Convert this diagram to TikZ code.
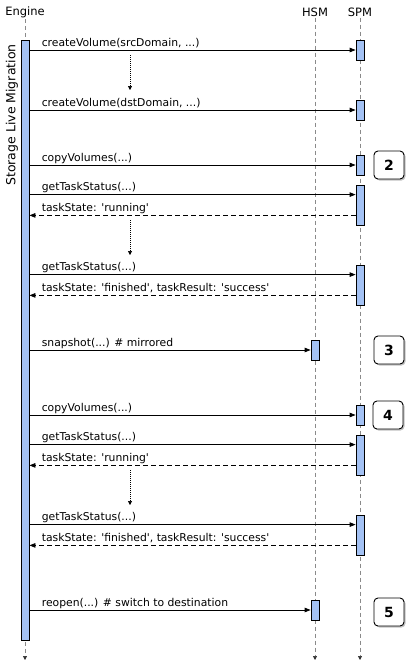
\documentclass[tikz,border=0pt]{standalone}
\usepackage{fontspec}
\setmainfont{DejaVu Sans}[Ligatures=TeXOff]
\usetikzlibrary{arrows.meta,shadows}
\definecolor{actfill}{HTML}{A4C2F4}
\definecolor{lifegray}{HTML}{8A8A8A}

\begin{document}
\begin{tikzpicture}[
  x=1pt,y=-1pt,
  font=\fontsize{10.8}{13}\selectfont,
  head/.style={font=\fontsize{11.5}{14}\selectfont,inner sep=1pt},
  life/.style={draw=lifegray,dash pattern=on 4pt off 3pt,line width=0.7pt,-{Triangle[length=4pt,width=4pt,color=black!80]}},
  bar/.style={draw=black,fill=actfill,line width=0.8pt,minimum width=8pt,minimum height=20pt,inner sep=0pt},
  longbar/.style={bar,minimum height=40pt},
  msg/.style={-{Triangle[length=6pt,width=4.5pt]},line width=0.8pt},
  ret/.style={msg,dash pattern=on 5pt off 3pt},
  wait/.style={-{Triangle[length=4pt,width=4pt]},dash pattern=on 1pt off 1pt,line width=0.6pt},
  lbl/.style={anchor=base west,xshift=12pt,yshift=4pt,inner sep=0pt},
  badge/.style={draw,fill=white,rounded corners=4pt,line width=0.9pt,minimum width=30pt,minimum height=28pt,
    font=\bfseries\fontsize{14}{16}\selectfont,
    drop shadow={shadow xshift=1.5pt,shadow yshift=-1.5pt,fill=black!40,opacity=0.6}}
]
\useasboundingbox (0,0) rectangle (410,670);

% participants and lifelines
\node[head] (engine) at (25,12) {Engine};
\node[head] (hsm) at (315,12) {HSM};
\node[head] (spm) at (360,12) {SPM};
\coordinate (engend) at (25,660);
\coordinate (hsmend) at (315,660);
\coordinate (spmend) at (360,660);
\draw[life] (engine) -- (engend);
\draw[life] (hsm) -- (hsmend);
\draw[life] (spm) -- (spmend);

\node[rotate=90,font=\fontsize{12.5}{15}\selectfont] (title) at (12,115) {Storage Live Migration};

% activations
\node[bar,minimum height=600pt] (engbar) at (25,340) {};
\node[bar] (spm1) at (360,50) {};
\node[bar] (spm2) at (360,110) {};
\node[bar] (spm3) at (360,165) {};
\node[longbar] (spm4) at (360,205) {};
\node[longbar] (spm5) at (360,285) {};
\node[bar] (hsm1) at (315,350) {};
\node[bar] (spm6) at (360,415) {};
\node[longbar] (spm7) at (360,455) {};
\node[longbar] (spm8) at (360,535) {};
\node[bar] (hsm2) at (315,610) {};

\foreach \b in {spm4,spm5,spm7,spm8}{
  \coordinate (q-\b) at ([yshift=-10pt]\b.north west);
  \coordinate (r-\b) at ([yshift=10pt]\b.south west);
}

% waits
\coordinate (w1a) at (130,55);  \coordinate (w1b) at (130,90);
\coordinate (w2a) at (130,220); \coordinate (w2b) at (130,255);
\coordinate (w3a) at (130,470); \coordinate (w3b) at (130,505);
\draw[wait] (w1a) -- (w1b);
\draw[wait] (w2a) -- (w2b);
\draw[wait] (w3a) -- (w3b);

% messages
\draw[msg] (engbar.east |- spm1.west) -- (spm1.west) node[lbl,pos=0] (t1) {createVolume(srcDomain, ...)};
\draw[msg] (engbar.east |- spm2.west) -- (spm2.west) node[lbl,pos=0] (t2) {createVolume(dstDomain, ...)};
\draw[msg] (engbar.east |- spm3.west) -- (spm3.west) node[lbl,pos=0] (t3) {copyVolumes(...)};
\draw[msg] (engbar.east |- q-spm4) -- (q-spm4) node[lbl,pos=0] (t4) {getTaskStatus(...)};
\draw[ret] (r-spm4) -- (engbar.east |- r-spm4) node[lbl,pos=1] (t5) {taskState: 'running'};
\draw[msg] (engbar.east |- q-spm5) -- (q-spm5) node[lbl,pos=0] (t6) {getTaskStatus(...)};
\draw[ret] (r-spm5) -- (engbar.east |- r-spm5) node[lbl,pos=1] (t7) {taskState: 'finished', taskResult: 'success'};
\draw[msg] (engbar.east |- hsm1.west) -- (hsm1.west) node[lbl,pos=0] (t8) {snapshot(...) \# mirrored};
\draw[msg] (engbar.east |- spm6.west) -- (spm6.west) node[lbl,pos=0] (t9) {copyVolumes(...)};
\draw[msg] (engbar.east |- q-spm7) -- (q-spm7) node[lbl,pos=0] (t10) {getTaskStatus(...)};
\draw[ret] (r-spm7) -- (engbar.east |- r-spm7) node[lbl,pos=1] (t11) {taskState: 'running'};
\draw[msg] (engbar.east |- q-spm8) -- (q-spm8) node[lbl,pos=0] (t12) {getTaskStatus(...)};
\draw[ret] (r-spm8) -- (engbar.east |- r-spm8) node[lbl,pos=1] (t13) {taskState: 'finished', taskResult: 'success'};
\draw[msg] (engbar.east |- hsm2.west) -- (hsm2.west) node[lbl,pos=0] (t14) {reopen(...) \# switch to destination};

% step badges
\node[badge] (step2) at (389,165) {2};
\node[badge] (step3) at (389,350) {3};
\node[badge] (step4) at (388,415) {4};
\node[badge] (step5) at (389,612) {5};
\end{tikzpicture}
\end{document}
